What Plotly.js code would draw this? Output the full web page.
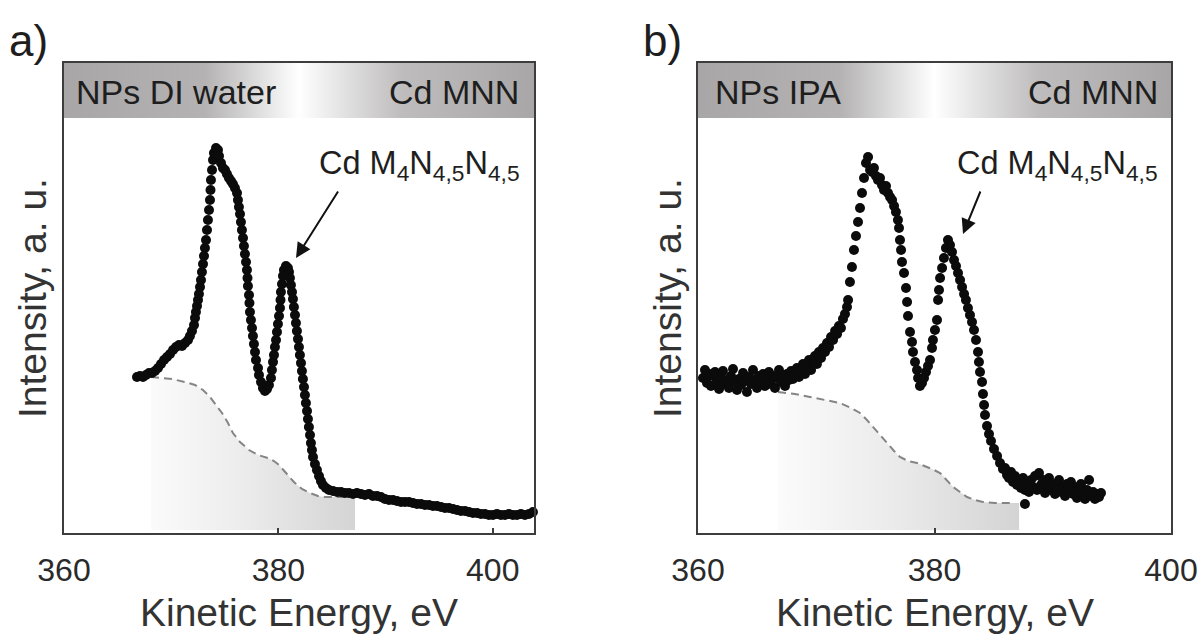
<!DOCTYPE html>
<html>
<head>
<meta charset="utf-8">
<script src="https://cdn.plot.ly/plotly-3.0.1.min.js"></script>
<style>
html,body{margin:0;padding:0;background:#fff;}
#chart{width:1202px;height:634px;}
</style>
</head>
<body>
<div id="chart"></div>
<script>
// ---------- Panel a: NPs DI water ----------
const aEnergy = [366.81,367.09,367.37,367.65,367.93,368.21,368.49,368.77,369.05,369.33,369.61,369.89,370.17,370.45,370.73,371.01,371.29,371.57,
371.75,371.94,372.13,372.22,372.31,372.41,372.50,372.59,372.69,372.78,372.87,372.97,373.06,373.15,373.25,373.34,373.43,373.53,373.62,373.67,373.71,373.81,373.90,373.99,374.18,
374.37,374.46,374.65,374.83,375.02,375.20,375.39,375.58,375.76,375.95,376.14,376.23,376.32,376.42,376.51,376.60,376.70,376.79,376.88,376.98,377.07,377.12,377.16,377.26,377.30,377.35,377.44,377.54,377.63,377.72,377.82,377.91,378.10,378.19,378.38,378.56,378.75,
378.94,379.12,379.31,379.40,379.50,379.59,379.68,379.78,379.87,379.96,380.06,380.15,380.20,380.24,380.34,380.43,380.52,380.71,
380.89,380.99,381.08,381.17,381.27,381.36,381.45,381.55,381.64,381.73,381.83,381.92,382.01,382.11,382.20,382.29,382.39,382.48,382.57,382.67,382.76,382.85,382.95,383.04,383.13,383.23,
383.41,383.60,383.79,383.97,384.16,384.44,384.72,385.09,
385.47,385.84,386.21,386.58,386.96,387.33,387.70,388.08,388.45,388.82,389.20,389.57,389.94,390.32,390.69,391.06,391.44,391.81,392.18,392.55,
392.93,393.30,393.67,394.05,394.42,394.79,395.17,395.54,395.91,396.29,396.66,397.03,397.41,397.78,398.15,398.53,398.90,399.27,399.64,400.02,
400.39,400.76,401.14,401.51,401.88,402.26,402.63,403.00,403.38,403.75];
const aIntensity = [156,157,156,158,160,160,162,165,169,173,176,179,183,186,188,187,190,193,
197,202,208,215,221,227,233,239,246,253,261,269,277,285,293,303,313,323,333,343,353,363,373,380,385,
383,377,370,365,363,359,355,352,349,345,340,333,326,319,311,303,295,287,279,271,263,255,247,238,230,221,213,205,197,189,181,173,165,158,151,145,142,
144,148,155,163,171,178,186,193,201,209,217,225,233,241,249,257,263,267,
265,261,255,248,241,234,226,218,210,202,194,186,178,170,162,154,146,138,130,122,114,106,98,90,83,76,
69,63,57,52,48,45,43,42,
41,41,40,40,39,40,39,38,39,37,37,36,34,33,33,32,31,31,31,30,
29,29,28,28,27,27,26,25,25,24,23,22,22,21,20,20,19,19,18,18,
19,18,18,19,18,18,19,18,19,21];
const aBgEnergy = [368.12,368.96,370.07,371.29,372.22,372.97,373.62,374.18,374.74,375.30,375.76,376.42,377.26,378.10,379.03,379.59,380.06,380.80,381.45,382.20,382.95,383.69,384.35,385.28,386.12];
const aBgIntensity = [156,155,154,151,148,143,136,128,120,110,100,91,83,78,75,72,68,59,51,44,40,37,36,36,36];
const aShadeEnd = 387.15;

// ---------- Panel b: NPs IPA ----------
const bEnergy = [360.42,360.59,360.76,360.93,361.10,361.27,361.44,361.61,361.78,361.95,362.11,362.28,362.45,362.62,362.79,362.96,363.13,363.30,363.47,363.64,363.81,363.97,364.14,364.31,364.48,364.65,364.82,364.99,365.16,365.33,365.50,365.67,365.84,366.00,366.17,366.34,366.51,366.68,366.85,367.02,367.19,367.36,367.53,367.70,367.87,368.03,368.20,368.37,368.54,
368.71,368.88,369.05,369.22,369.39,369.56,369.73,369.89,370.06,370.23,370.40,370.57,370.74,370.91,371.08,371.25,371.42,371.59,371.76,371.92,372.09,372.26,372.43,372.60,
372.69,372.85,373.02,373.19,373.36,373.53,373.70,373.87,374.04,374.21,374.38,
374.55,374.72,374.88,375.05,375.22,375.39,375.56,375.73,375.90,376.07,376.24,376.41,376.58,376.74,376.91,
377.00,377.08,377.17,377.25,377.42,377.59,377.68,377.76,377.93,378.10,378.18,378.35,378.52,378.61,378.77,
378.94,379.11,379.28,379.45,379.62,379.79,379.87,380.04,380.21,380.30,380.38,380.47,380.64,380.80,380.97,381.14,
381.31,381.48,381.65,381.82,381.99,382.16,382.33,382.50,382.66,382.83,383.00,383.17,383.34,383.51,383.68,383.76,383.85,384.02,384.10,384.19,384.27,384.44,384.61,384.78,385.03,385.29,385.54,385.79,
385.96,386.13,386.30,386.47,386.64,386.81,386.98,387.15,387.32,387.49,387.65,387.65,387.82,387.99,388.16,388.33,388.50,388.67,388.84,389.01,389.18,389.35,389.51,389.68,389.85,390.02,390.19,390.36,390.53,390.70,390.87,391.04,391.21,391.37,391.54,391.71,391.88,392.05,392.22,392.39,392.56,392.73,392.90,393.07,393.24,393.41,393.57,393.74,393.91,394.08];
const bIntensity = [155,163,150,159,147,157,161,152,144,155,162,149,153,145,157,164,151,143,154,148,160,152,141,156,149,163,153,145,157,150,159,147,154,161,149,157,145,155,163,151,156,147,159,153,162,154,158,165,156,
162,169,159,166,173,163,170,177,169,181,175,185,181,190,186,196,193,202,199,207,205,214,219,226,
233,251,266,283,297,311,325,340,355,370,376,
363,361,365,357,353,355,348,343,347,340,336,333,327,321,313,
305,293,283,271,260,245,231,217,201,191,181,171,163,155,147,
150,155,161,167,173,185,193,203,213,233,243,255,265,275,285,293,
288,281,273,267,260,253,246,239,233,225,218,211,203,193,181,171,161,151,139,128,118,107,99,92,84,77,70,64,
65,58,55,61,51,57,48,53,45,55,43,29,49,41,53,46,57,43,60,48,53,40,47,55,43,49,39,46,53,41,45,37,49,43,51,39,46,35,43,49,38,34,43,53,37,41,34,39,36,40];
const bBgEnergy = [366.77,368.20,369.47,370.74,372.01,372.94,373.70,374.29,374.80,375.39,375.98,376.58,377.08,377.76,378.52,379.20,379.79,380.47,381.06,381.57,382.16,382.75,383.43,384.10,385.12,386.13,386.64];
const bBgIntensity = [141,139,136,133,130,125,120,113,106,98,90,82,76,72,70,67,64,60,53,46,41,36,33,31,30,30,30];
const bShadeEnd = 387.15;

// ---------- shared ----------
const tickVals = [360, 380, 400];
const tickText = ['360', '380', '400'];
const aRange = [360, 403.85];
const bRange = [360, 400];
const yRange = [0, 470];
const headerBand = [415, 470];
const shadeBottom = 3;
const panelLabels = ['a)', 'b)'];
const headerLeft = ['NPs DI water', 'NPs IPA'];
const headerRight = ['Cd MNN', 'Cd MNN'];
const peakLabel = 'Cd M<sub>4</sub>N<sub>4,5</sub>N<sub>4,5</sub>';
const xTitle = 'Kinetic Energy, eV';
const yTitle = 'Intensity, a. u.';

const FONT = 'Liberation Sans, Arial, Helvetica, sans-serif';
const TXT = '#1e1e1e';

function shadeTrace(ex, iy, end, xa, ya) {
  const xs = ex.concat([end, end, ex[0]]);
  const ys = iy.concat([iy[iy.length - 1], shadeBottom, shadeBottom]);
  return {x: xs, y: ys, xaxis: xa, yaxis: ya, mode: 'none', fill: 'toself',
    fillcolor: 'rgba(225,225,225,0.8)',
    fillgradient: {type: 'horizontal', colorscale: [[0, 'rgba(251,251,251,1)'], [0.45, 'rgba(236,236,236,1)'], [1, 'rgba(212,212,212,1)']]},
    hoverinfo: 'skip'};
}
function bgTrace(ex, iy, xa, ya) {
  return {x: ex, y: iy, xaxis: xa, yaxis: ya, mode: 'lines',
    line: {color: '#858585', width: 2, dash: '8px,5px'}, hoverinfo: 'skip'};
}
function dataTrace(ex, iy, xa, ya) {
  return {x: ex, y: iy, xaxis: xa, yaxis: ya, mode: 'markers',
    marker: {color: '#0b0b0b', size: 10, line: {width: 0}}, cliponaxis: false};
}
function headerTrace(range, xa, ya) {
  return {x: [range[0], range[1], range[1], range[0], range[0]],
    y: [headerBand[0], headerBand[0], headerBand[1], headerBand[1], headerBand[0]],
    xaxis: xa, yaxis: ya, mode: 'none', fill: 'toself', fillcolor: '#bdbbbb',
    fillgradient: {type: 'horizontal', colorscale: [[0, '#a8a6a6'], [0.3, '#b4b2b2'], [0.5, '#ffffff'], [0.72, '#bebcbc'], [1, '#a8a6a6']]},
    hoverinfo: 'skip'};
}

const traces = [
  shadeTrace(aBgEnergy, aBgIntensity, aShadeEnd, 'x', 'y'),
  bgTrace(aBgEnergy, aBgIntensity, 'x', 'y'),
  headerTrace(aRange, 'x', 'y'),
  dataTrace(aEnergy, aIntensity, 'x', 'y'),
  shadeTrace(bBgEnergy, bBgIntensity, bShadeEnd, 'x2', 'y2'),
  bgTrace(bBgEnergy, bBgIntensity, 'x2', 'y2'),
  headerTrace(bRange, 'x2', 'y2'),
  dataTrace(bEnergy, bIntensity, 'x2', 'y2')
];

const W = 1202, H = 634;
const px = v => v / W, py = v => 1 - v / H;
const yDom = [py(533), py(63)];

function xaxis(range, dom, anchor) {
  return {range: range, domain: dom, anchor: anchor, showgrid: false, zeroline: false,
    showline: true, mirror: true, linecolor: '#3d3d3d', linewidth: 2,
    ticks: 'inside', ticklen: 5, tickwidth: 2, tickcolor: '#3d3d3d',
    tickvals: tickVals, ticktext: tickText, ticklabelstandoff: 8,
    ticklabeloverflow: 'allow', automargin: false,
    tickfont: {family: FONT, size: 32, color: '#2a2a2a'}, fixedrange: true};
}
function yaxis(dom, anchor) {
  return {range: yRange, domain: dom, anchor: anchor, showgrid: false, zeroline: false,
    showline: true, mirror: true, linecolor: '#3d3d3d', linewidth: 2,
    ticks: '', showticklabels: false, fixedrange: true, automargin: false};
}

function txt(text, x, y, size, xanchor, extra) {
  return Object.assign({text: text, x: x, y: y, xref: 'paper', yref: 'paper',
    xanchor: xanchor, yanchor: 'middle', showarrow: false,
    font: {family: FONT, size: size, color: TXT}}, extra || {});
}
function arrow(tipX, tipY, tailX, tailY) {
  return {text: '', x: px(tipX), y: py(tipY), xref: 'paper', yref: 'paper',
    ax: tailX - tipX, ay: tailY - tipY, showarrow: true, arrowhead: 2,
    arrowsize: 1.5, arrowwidth: 2, arrowcolor: '#111', standoff: 0, startstandoff: 0};
}
const titleFont = {family: FONT, size: 39, color: '#333'};

const annotations = [
  txt(panelLabels[0], px(7), py(40), 44, 'left'),
  txt(panelLabels[1], px(641), py(40), 44, 'left'),
  txt(headerLeft[0], px(74), py(92), 34, 'left'),
  txt(headerRight[0], px(521), py(92), 34, 'right'),
  txt(headerLeft[1], px(713), py(92), 34, 'left'),
  txt(headerRight[1], px(1160), py(92), 34, 'right'),
  txt(peakLabel, px(522), py(166), 32.5, 'right'),
  txt(peakLabel, px(1160), py(166), 32.5, 'right'),
  arrow(296, 258, 339, 190),
  arrow(963, 234, 981, 190),
  txt(xTitle, px(299), py(612), 39, 'center', {font: titleFont}),
  txt(xTitle, px(935), py(612), 39, 'center', {font: titleFont}),
  txt(yTitle, px(32), py(298), 39, 'center', {textangle: -90, font: titleFont}),
  txt(yTitle, px(667), py(298), 39, 'center', {textangle: -90, font: titleFont})
];

const layout = {
  width: W, height: H, margin: {l: 0, r: 0, t: 0, b: 0},
  paper_bgcolor: '#fff', plot_bgcolor: 'rgba(0,0,0,0)',
  showlegend: false, hovermode: false,
  font: {family: FONT, color: TXT},
  xaxis: xaxis(aRange, [px(64), px(534)], 'y'),
  yaxis: yaxis(yDom, 'x'),
  xaxis2: xaxis(bRange, [px(698), px(1171)], 'y2'),
  yaxis2: yaxis(yDom, 'x2'),
  annotations: annotations
};

Plotly.newPlot('chart', traces, layout, {staticPlot: true, displayModeBar: false});
</script>
</body>
</html>
